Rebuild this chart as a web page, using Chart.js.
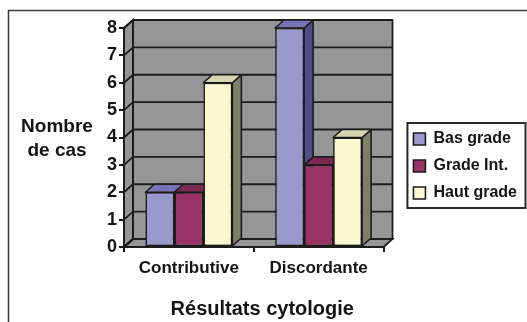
<!DOCTYPE html>
<html><head><meta charset="utf-8">
<script src="https://cdn.jsdelivr.net/npm/chart.js@4.4.1/dist/chart.umd.min.js"></script>
<style>html,body{margin:0;padding:0;background:#fff;} #wrap{width:527px;height:322px;}</style>
</head><body><div id="wrap"><canvas id="c" width="527" height="322"></canvas></div>
<script>
// ---- data ----
const categories = ['Contributive', 'Discordante'];
const seriesNames = ['Bas grade', 'Grade Int.', 'Haut grade'];
const basGrade = [2, 8];
const gradeInt = [2, 3];
const hautGrade = [6, 4];
const yTicks = [0, 1, 2, 3, 4, 5, 6, 7, 8];
const yTitleLines = ['Nombre', 'de cas'];
const xTitle = 'Résultats cytologie';

// ---- style ----
const FONT = "'Liberation Sans', Arial, Helvetica, sans-serif";
const frontColors = ['#9999CC', '#993366', '#FCF9D0'];
const topColors = ['#7575B6', '#7A2850', '#D6D5AF'];
const sideColors = ['#4E4E88', '#5E1F3E', '#7E7F69'];
const DX = 9, DY = 8;
const WALL = '#969696';
const LINE = '#1c1c1c';
const TEXT = '#141414';

function poly(ctx, pts) {
  ctx.beginPath();
  ctx.moveTo(pts[0][0], pts[0][1]);
  for (let i = 1; i < pts.length; i++) ctx.lineTo(pts[i][0], pts[i][1]);
  ctx.closePath();
}

const threeD = {
  id: 'threeD',
  beforeDraw(chart) {
    const ctx = chart.ctx, a = chart.chartArea, ys = chart.scales.y;
    const L = a.left, R = a.right, T = a.top, B = a.bottom;
    ctx.save();
    ctx.fillStyle = '#fff';
    ctx.fillRect(0, 0, chart.width, chart.height);
    // outer frame
    ctx.strokeStyle = '#3a3a3a'; ctx.lineWidth = 1.5;
    ctx.strokeRect(8.5, 10.5, chart.width + 40, chart.height + 40);
    // walls
    ctx.fillStyle = WALL;
    ctx.fillRect(L + DX, T - DY, R - L, B - T);
    poly(ctx, [[L, T], [L + DX, T - DY], [L + DX, B - DY], [L, B]]); ctx.fill();
    poly(ctx, [[L, B], [L + DX, B - DY], [R + DX, B - DY], [R, B]]); ctx.fill();
    ctx.strokeStyle = LINE; ctx.lineWidth = 1.8;
    yTicks.forEach(v => {
      const py = ys.getPixelForValue(v);
      ctx.beginPath();
      ctx.moveTo(L, py); ctx.lineTo(L + DX, py - DY); ctx.lineTo(R + DX, py - DY);
      ctx.stroke();
    });
    ctx.strokeRect(L + DX, T - DY, R - L, B - T);
    poly(ctx, [[L, T], [L + DX, T - DY], [L + DX, B - DY], [L, B]]); ctx.stroke();
    poly(ctx, [[L, B], [L + DX, B - DY], [R + DX, B - DY], [R, B]]); ctx.stroke();
    ctx.restore();
  },
  beforeDatasetsDraw(chart) {
    const ctx = chart.ctx;
    ctx.save();
    ctx.strokeStyle = LINE; ctx.lineWidth = 1.6; ctx.lineJoin = 'round';
    const n = chart.data.labels.length;
    for (let c = 0; c < n; c++) {
      chart.data.datasets.forEach((ds, d) => {
        const el = chart.getDatasetMeta(d).data[c];
        const l = el.x - el.width / 2, r = el.x + el.width / 2, t = el.y, b = el.base;
        ctx.fillStyle = sideColors[d];
        poly(ctx, [[r, t], [r + DX, t - DY], [r + DX, b - DY], [r, b]]); ctx.fill(); ctx.stroke();
        ctx.fillStyle = topColors[d];
        poly(ctx, [[l, t], [l + DX, t - DY], [r + DX, t - DY], [r, t]]); ctx.fill(); ctx.stroke();
      });
    }
    ctx.restore();
  },
  afterDraw(chart) {
    const ctx = chart.ctx, a = chart.chartArea;
    ctx.save();
    // legend frame
    const lg = chart.legend, hb = lg.legendHitBoxes;
    if (hb && hb.length) {
      const x0 = hb[0].left - 6, y0 = hb[0].top - 8;
      const last = hb[hb.length - 1];
      const y1 = last.top + last.height + 7;
      const x1 = Math.min(lg.right - 1.5, 526);
      ctx.strokeStyle = '#2a2a2a'; ctx.lineWidth = 2;
      ctx.strokeRect(x0, y0, x1 - x0, y1 - y0);
    }
    ctx.fillStyle = TEXT;
    ctx.textAlign = 'center'; ctx.textBaseline = 'alphabetic';
    ctx.font = 'bold 19px ' + FONT;
    ctx.fillText(yTitleLines[0], 57, 132);
    ctx.fillText(yTitleLines[1], 57, 156);
    ctx.font = 'bold 20px ' + FONT;
    ctx.fillText(xTitle, (a.left + a.right + DX) / 2 + 4, 315);
    ctx.restore();
  }
};

const values = [basGrade, gradeInt, hautGrade];

new Chart(document.getElementById('c').getContext('2d'), {
  type: 'bar',
  data: {
    labels: categories,
    datasets: seriesNames.map((name, i) => ({
      label: name,
      data: values[i],
      backgroundColor: frontColors[i],
      borderColor: LINE,
      borderWidth: 1.6,
      borderSkipped: false
    }))
  },
  options: {
    responsive: false,
    animation: false,
    devicePixelRatio: 1,
    layout: { padding: { left: 0, top: 28, right: 0, bottom: 18 } },
    datasets: { bar: { categoryPercentage: 0.67, barPercentage: 1 } },
    scales: {
      x: {
        offset: true,
        grid: { display: true, drawOnChartArea: false, drawTicks: true, tickLength: 5, color: LINE, lineWidth: 2 },
        border: { display: true, color: LINE, width: 2 },
        ticks: { font: { family: FONT, size: 17, weight: 'bold' }, color: TEXT, padding: 6 },
        afterFit(s) { s.height = 57; }
      },
      y: {
        min: 0, max: 8,
        grid: { display: true, drawOnChartArea: false, drawTicks: true, tickLength: 5, color: LINE, lineWidth: 2 },
        border: { display: true, color: LINE, width: 2 },
        ticks: { stepSize: 1, font: { family: FONT, size: 18, weight: 'bold' }, color: TEXT, padding: 2 },
        afterFit(s) { s.width = 124; }
      },
      spacer: {
        type: 'linear', position: 'right', display: true,
        grid: { display: false }, ticks: { display: false }, border: { display: false },
        afterFit(s) { s.width = Math.max(0, 527 - 383.5 - (s.chart.legend ? s.chart.legend.width : 0)); }
      }
    },
    plugins: {
      legend: {
        position: 'right', align: 'center', maxWidth: 140,
        labels: { boxWidth: 12, boxHeight: 12, padding: 11, font: { family: FONT, size: 16, weight: 'bold' }, color: TEXT }
      },
      tooltip: { enabled: false }
    }
  },
  plugins: [threeD]
});
</script>
</body></html>
